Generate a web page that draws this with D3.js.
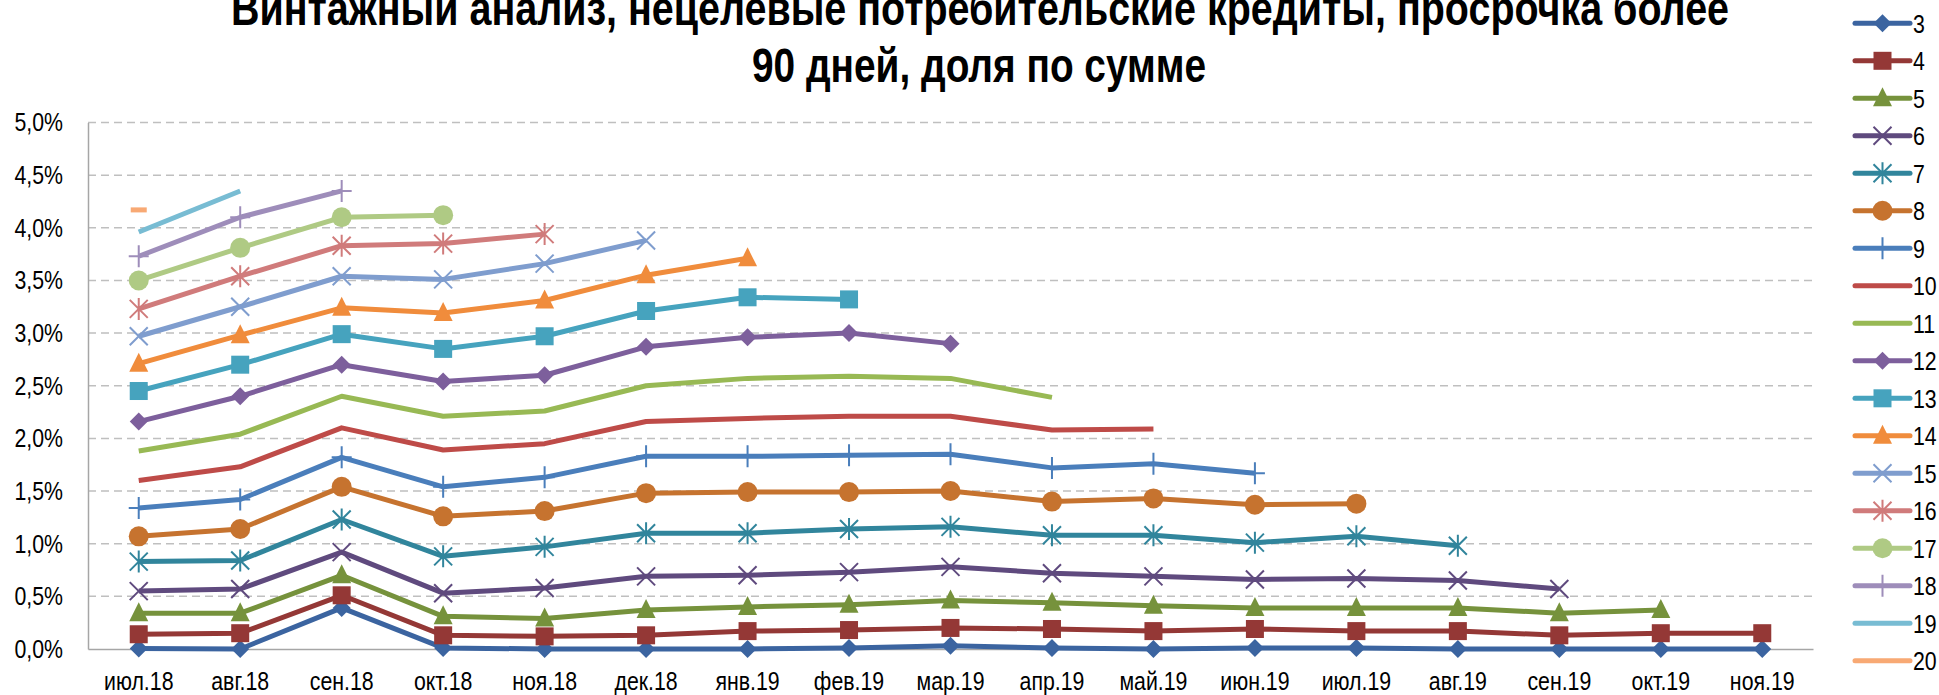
<!DOCTYPE html>
<html>
<head>
<meta charset="utf-8">
<script src="https://cdn.jsdelivr.net/npm/d3@7/dist/d3.min.js"></script>
<style>
  body { margin: 0; background: #fff; }
  svg { display: block; font-family: "Liberation Sans", Arial, sans-serif; }
  .title { font-weight: bold; font-size: 48px; fill: #000; }
  .tick text { font-size: 26px; fill: #000; }
  .legend_label { font-size: 26px; fill: #000; }
</style>
</head>
<body>
<div id="chart"></div>
<script>
var months = ["июл.18", "авг.18", "сен.18", "окт.18", "ноя.18", "дек.18", "янв.19", "фев.19", "мар.19",
  "апр.19", "май.19", "июн.19", "июл.19", "авг.19", "сен.19", "окт.19", "ноя.19"];

var yTicks = [0, 0.005, 0.01, 0.015, 0.02, 0.025, 0.03, 0.035, 0.04, 0.045, 0.05];

// values in %, one array per vintage (each starts at июл.18)
var s3  = [0.005, 0.0, 0.39, 0.01, 0.0, 0.0, 0.0, 0.01, 0.03, 0.01, 0.0, 0.01, 0.01, 0.0, 0.0, 0.0, 0.0];
var s4  = [0.14, 0.15, 0.51, 0.13, 0.12, 0.13, 0.17, 0.18, 0.20, 0.19, 0.17, 0.19, 0.17, 0.17, 0.13, 0.15, 0.15];
var s5  = [0.34, 0.34, 0.70, 0.31, 0.29, 0.37, 0.40, 0.42, 0.46, 0.44, 0.41, 0.39, 0.39, 0.39, 0.34, 0.37];
var s6  = [0.55, 0.57, 0.92, 0.53, 0.58, 0.69, 0.70, 0.73, 0.78, 0.72, 0.69, 0.66, 0.67, 0.65, 0.57];
var s7  = [0.83, 0.84, 1.23, 0.88, 0.97, 1.10, 1.10, 1.14, 1.16, 1.08, 1.08, 1.01, 1.07, 0.98];
var s8  = [1.07, 1.14, 1.54, 1.26, 1.31, 1.48, 1.49, 1.49, 1.50, 1.40, 1.43, 1.37, 1.38];
var s9  = [1.34, 1.42, 1.82, 1.54, 1.63, 1.83, 1.83, 1.84, 1.85, 1.72, 1.76, 1.67];
var s10 = [1.60, 1.73, 2.10, 1.89, 1.95, 2.16, 2.19, 2.21, 2.21, 2.08, 2.09];
var s11 = [1.88, 2.04, 2.40, 2.21, 2.26, 2.50, 2.57, 2.59, 2.57, 2.39];
var s12 = [2.16, 2.40, 2.70, 2.54, 2.60, 2.87, 2.96, 3.00, 2.90];
var s13 = [2.45, 2.70, 2.99, 2.85, 2.97, 3.21, 3.34, 3.32];
var s14 = [2.71, 2.98, 3.24, 3.19, 3.31, 3.55, 3.71];
var s15 = [2.97, 3.25, 3.54, 3.51, 3.66, 3.88];
var s16 = [3.23, 3.54, 3.83, 3.85, 3.94];
var s17 = [3.50, 3.81, 4.10, 4.12];
var s18 = [3.73, 4.10, 4.35];
var s19 = [3.96, 4.35];
var s20 = [4.17];

var names = ["3", "4", "5", "6", "7", "8", "9", "10", "11", "12", "13", "14", "15", "16", "17", "18", "19", "20"];
var values = [s3, s4, s5, s6, s7, s8, s9, s10, s11, s12, s13, s14, s15, s16, s17, s18, s19, s20];
var colors = ["#3B64A0", "#943836", "#76923C", "#5F4A7E", "#31859C", "#C6732F", "#4A7EBB", "#BE4B48",
  "#98B954", "#7D5F9C", "#46A3BE", "#F08C3C", "#7F9DCE", "#D07B7B", "#AFCA84", "#9E8DBA", "#78BCD3", "#F8A974"];
var markers = ["diamond", "square", "triangle", "x", "star", "circle", "plus", "none", "none",
  "diamond", "square", "triangle", "x", "star", "circle", "plus", "none", "dash"];

var W = 1939, H = 695,
  narrow = 0.82,   // squeeze to look like Arial Narrow
  plot = { left: 88, right: 1813, top: 122.5, bottom: 649 };

var svg = d3.select("#chart").append("svg")
  .attr("width", W)
  .attr("height", H);

var x = d3.scaleBand().domain(months).range([plot.left, plot.right]);
var y = d3.scaleLinear().domain([0, 0.05]).range([plot.bottom, plot.top]);
var cx = function(i) { return x(months[i]) + x.bandwidth() / 2; };

// title
svg.append("text").attr("class", "title")
  .attr("x", 980).attr("y", 25)
  .attr("text-anchor", "middle")
  .attr("textLength", 1498).attr("lengthAdjust", "spacingAndGlyphs")
  .text("Винтажный анализ, нецелевые потребительские кредиты, просрочка более");
svg.append("text").attr("class", "title")
  .attr("x", 979).attr("y", 82)
  .attr("text-anchor", "middle")
  .attr("textLength", 454).attr("lengthAdjust", "spacingAndGlyphs")
  .text("90 дней, доля по сумме");

// gridlines
svg.append("g").selectAll("line")
  .data(yTicks.filter(function(d) { return d > 0; }))
  .enter().append("line")
  .attr("x1", plot.left).attr("x2", plot.right)
  .attr("y1", function(d) { return y(d); })
  .attr("y2", function(d) { return y(d); })
  .attr("stroke", "#BFBFBF")
  .attr("stroke-width", 1.5)
  .attr("stroke-dasharray", "8,5");

// axes
var yAxis = svg.append("g")
  .attr("transform", "translate(" + plot.left + ",0)")
  .call(d3.axisLeft(y).tickValues(yTicks).tickSize(0)
    .tickFormat(function(d) { return (d * 100).toFixed(1).replace(".", ",") + "%"; }));
yAxis.select(".domain").attr("stroke", "#A6A6A6").attr("stroke-width", 1.5);
yAxis.selectAll("text").attr("font-family", null).attr("font-size", null)
  .attr("x", -25 / narrow)
  .attr("transform", "scale(" + narrow + ",1)");

var xAxis = svg.append("g")
  .attr("transform", "translate(0," + plot.bottom + ")")
  .call(d3.axisBottom(x).tickSize(0).tickPadding(23));
xAxis.select(".domain").attr("stroke", "#A6A6A6").attr("stroke-width", 1.5);
xAxis.selectAll("text").attr("font-family", null).attr("font-size", null).attr("dy", "0.71em")
  .attr("transform", "scale(" + narrow + ",1)");

// marker shapes
function drawMarker(g, type, color) {
  if (type === "diamond") {
    g.append("path").attr("d", "M0,-9L9,0L0,9L-9,0Z").attr("fill", color);
  } else if (type === "square") {
    g.append("rect").attr("x", -9).attr("y", -9).attr("width", 18).attr("height", 18).attr("fill", color);
  } else if (type === "triangle") {
    g.append("path").attr("d", "M0,-11L9.5,8L-9.5,8Z").attr("fill", color);
  } else if (type === "circle") {
    g.append("circle").attr("r", 10).attr("fill", color);
  } else if (type === "x") {
    g.append("path").attr("d", "M-9,-9L9,9M-9,9L9,-9").attr("stroke", color).attr("stroke-width", 2).attr("fill", "none");
  } else if (type === "star") {
    g.append("path").attr("d", "M-9,-9L9,9M-9,9L9,-9M0,-11L0,11").attr("stroke", color).attr("stroke-width", 2).attr("fill", "none");
  } else if (type === "plus") {
    g.append("path").attr("d", "M-10,0L10,0M0,-11L0,11").attr("stroke", color).attr("stroke-width", 2).attr("fill", "none");
  } else if (type === "dash") {
    g.append("rect").attr("x", -8).attr("y", -2.5).attr("width", 16).attr("height", 5).attr("fill", color);
  }
}

var line = d3.line()
  .x(function(d, i) { return cx(i); })
  .y(function(d) { return y(d / 100); });

values.forEach(function(vals, k) {
  var g = svg.append("g").attr("class", "series s" + names[k]);
  if (vals.length > 1) {
    g.append("path")
      .attr("d", line(vals))
      .attr("fill", "none")
      .attr("stroke", colors[k])
      .attr("stroke-width", 5)
      .attr("stroke-linejoin", "round");
  }
  vals.forEach(function(v, i) {
    var m = g.append("g").attr("transform", "translate(" + cx(i) + "," + y(v / 100) + ")");
    drawMarker(m, markers[k], colors[k]);
  });
});

// legend
var legend = svg.append("g").attr("class", "legend");
names.forEach(function(n, k) {
  var ly = 23.3 + k * 37.5;
  legend.append("line")
    .attr("x1", 1855).attr("x2", 1910)
    .attr("y1", ly).attr("y2", ly)
    .attr("stroke", colors[k]).attr("stroke-width", 5).attr("stroke-linecap", "round");
  var m = legend.append("g").attr("transform", "translate(1882.5," + ly + ")");
  if (markers[k] !== "dash") drawMarker(m, markers[k], colors[k]);
  legend.append("text").attr("class", "legend_label")
    .attr("transform", "translate(1913," + ly + ") scale(" + narrow + ",1)")
    .attr("dy", "0.36em")
    .text(n);
});
</script>
</body>
</html>
